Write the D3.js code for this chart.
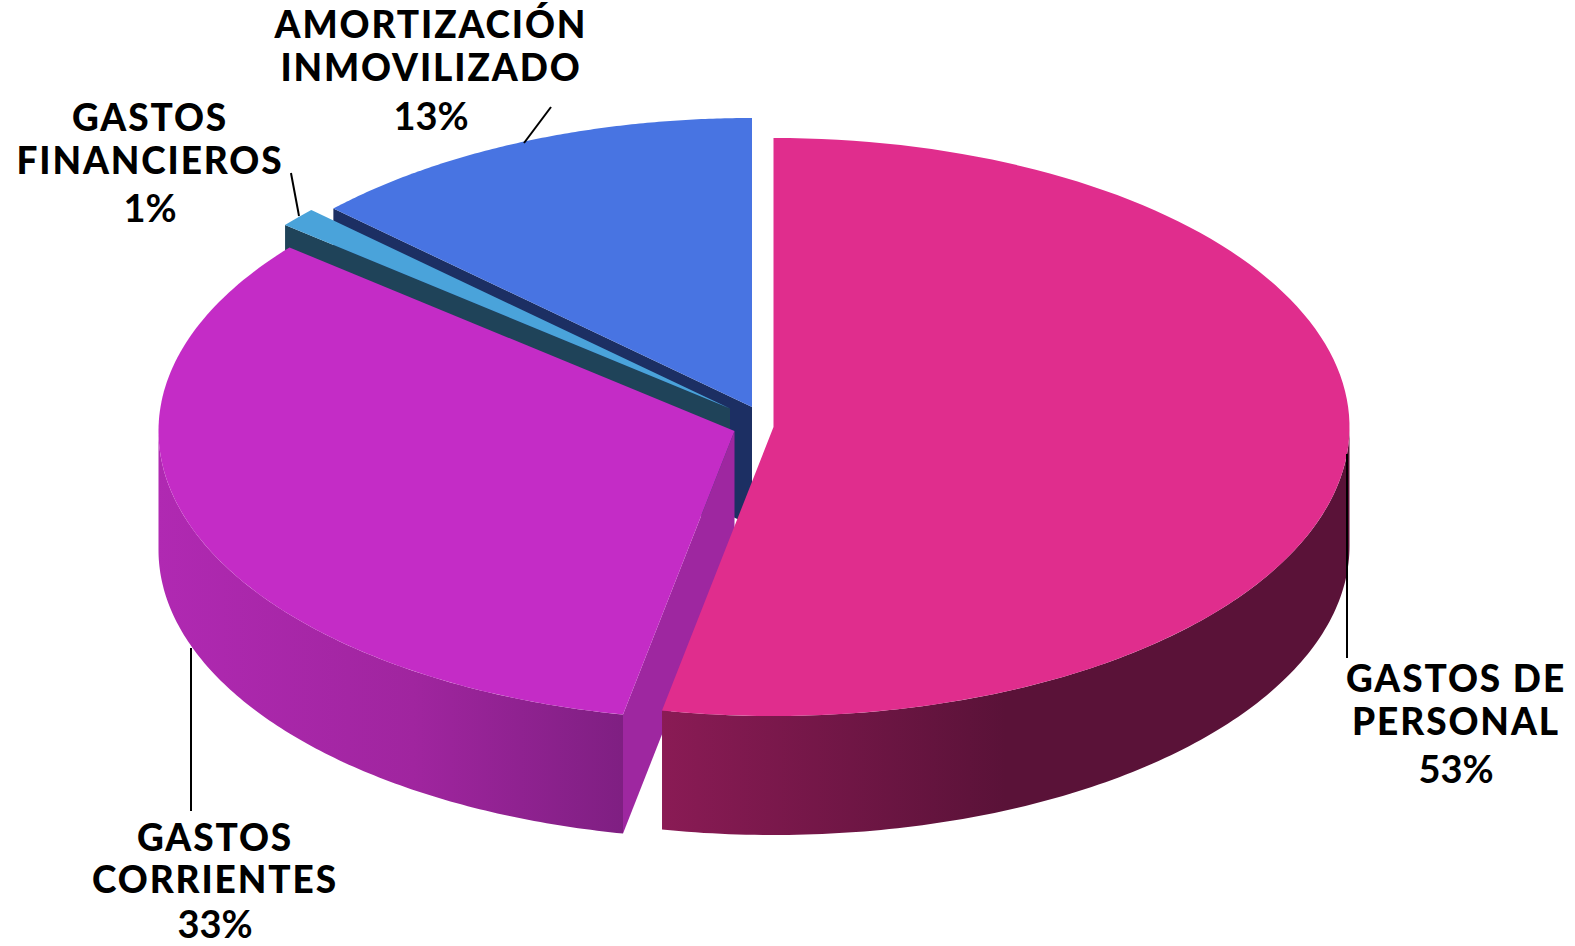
<!DOCTYPE html>
<html>
<head>
<meta charset="utf-8">
<script src="https://cdnjs.cloudflare.com/ajax/libs/d3/7.8.5/d3.min.js"></script>
<style>
html,body{margin:0;padding:0;background:#fff;}
svg{display:block;}
text{font-family:"Lato",sans-serif;fill:#000;text-anchor:middle;}
</style>
</head>
<body>
<div id="chart"></div>
<script>
// datos
var categories = ["GASTOS DE PERSONAL","GASTOS CORRIENTES","GASTOS FINANCIEROS","AMORTIZACIÓN INMOVILIZADO"];
var values = [53.1,32.85,1.1,12.95];
var percentLabels = ["53%","33%","1%","13%"];
var labelLines = [["GASTOS DE","PERSONAL"],["GASTOS","CORRIENTES"],["GASTOS","FINANCIEROS"],["AMORTIZACIÓN","INMOVILIZADO"]];

var width = 1575, height = 946;
var rx = 576, ry = 289, depth = 119;

// centro de cada porcion (separadas)
var centers = [[773.5,427],[734.5,431],[730,408.5],[752,407]];
var topColors = ["#e02d8d","#c42cc6","#4aa3da","#4874e2"];
var faceColors = [null,"#9e27a0","#1f4359","#1c2f63"];
// etiquetas: centro x, base primera linea, base segunda, base porcentaje
var labelPos = [[1456,692,735,783],[215,851,893,938],[150,131,174,222],[431,38,81,130]];
var leaders = [[[1347,454],[1347,658]],[[191,648],[191,811]],[[291,173],[299,216]],[[551,107],[524,143]]];

var svg = d3.select("#chart").append("svg").attr("width",width).attr("height",height);
var defs = svg.append("defs");

var pie = d3.pie().sort(null).startAngle(0).endAngle(Math.PI*2);
var arcs = pie(values);

function px(c,a){ return c[0]+rx*Math.sin(a); }
function py(c,a){ return c[1]-ry*Math.cos(a); }

var line = d3.line();

function rimPoints(c,a0,a1,dy){
	var n = 120, pts = [];
	for(var i=0;i<=n;i++){
		var a = a0+(a1-a0)*i/n;
		pts.push([px(c,a),py(c,a)+(dy||0)]);
	}
	return pts;
}

function addGradient(id,x1,x2,stops){
	var g = defs.append("linearGradient").attr("id",id)
		.attr("gradientUnits","userSpaceOnUse")
		.attr("x1",x1).attr("x2",x2).attr("y1",0).attr("y2",0);
	stops.forEach(function(s){
		g.append("stop").attr("offset",s[0]).attr("stop-color",s[1]);
	});
}
addGradient("wallPink",661,1350,[[0,"#8a1b55"],[0.5,"#5a1238"],[1,"#5a1238"]]);
addGradient("wallPurple",158,623,[[0,"#b029b2"],[0.55,"#a0259f"],[1,"#7f1f82"]]);
var wallFill = ["url(#wallPink)","url(#wallPurple)"];

// de atras hacia delante
[3,2,1,0].forEach(function(i){
	var d = arcs[i], c = centers[i];
	var g = svg.append("g").attr("class","slice");

	// cara interior visible
	if(faceColors[i]){
		var a = d.startAngle;
		g.append("path")
			.attr("d",line([[c[0],c[1]],[px(c,a),py(c,a)],[px(c,a),py(c,a)+depth],[c[0],c[1]+depth]])+"Z")
			.style("fill",faceColors[i]);
	}
	// pared exterior
	if(i<2){
		var a0 = i==0 ? Math.PI/2 : d.startAngle;
		var a1 = i==0 ? d.endAngle : Math.PI*1.5;
		var pts = rimPoints(c,a0,a1,0).concat(rimPoints(c,a1,a0,depth));
		g.append("path").attr("d",line(pts)+"Z").style("fill",wallFill[i]);
	}
	// tapa
	g.append("path")
		.attr("d",line([[c[0],c[1]]].concat(rimPoints(c,d.startAngle,d.endAngle)))+"Z")
		.style("fill",topColors[i]);
});

// lineas guia
svg.selectAll(".leader").data(leaders).enter().append("path")
	.attr("class","leader")
	.attr("d",function(d){return line(d);})
	.style("stroke","#000").style("stroke-width",2).style("fill","none");

// etiquetas
categories.forEach(function(name,i){
	var p = labelPos[i];
	var g = svg.append("g").attr("class","label");
	labelLines[i].forEach(function(t,j){
		g.append("text").attr("x",p[0]).attr("y",p[j+1])
			.style("font-size","37px").style("font-weight",900).style("letter-spacing","1.9px").text(t);
	});
	g.append("text").attr("x",p[0]).attr("y",p[3])
		.style("font-size","38px").style("font-weight",700).text(percentLabels[i]);
});
</script>
</body>
</html>
